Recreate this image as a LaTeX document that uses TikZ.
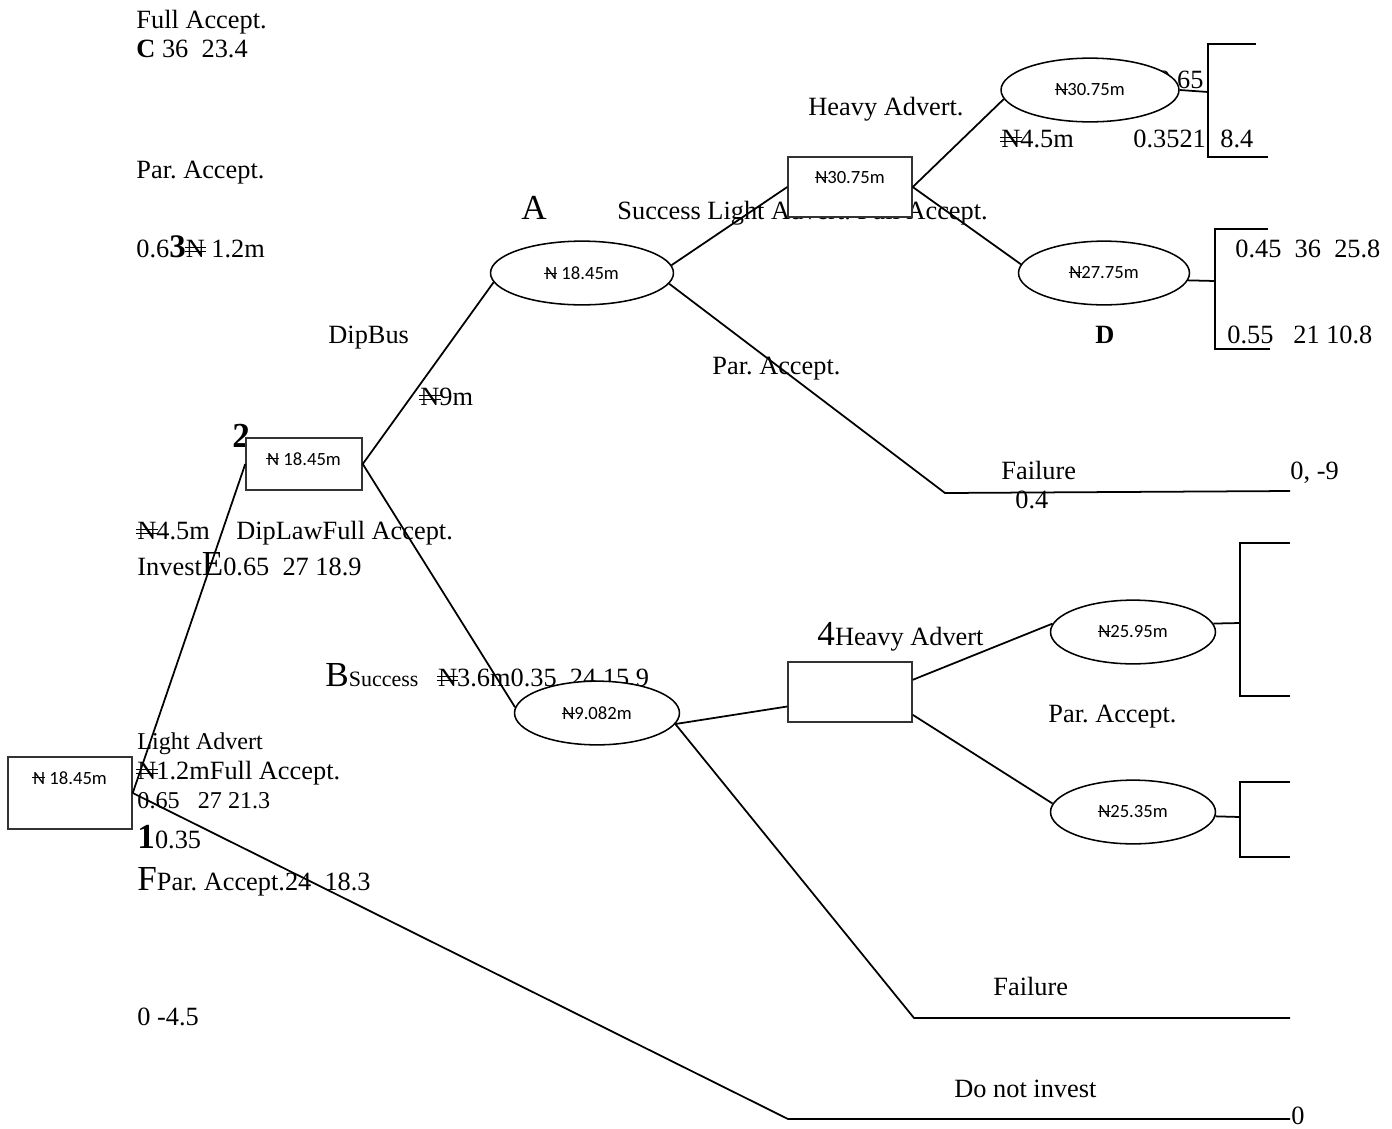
\documentclass[tikz,border=0pt]{standalone}
\usepackage{fontspec}
\setmainfont{Liberation Serif}
\setsansfont{Carlito}
\usepackage{tikz}
\usetikzlibrary{shapes.geometric}

\begin{document}
\frenchspacing
\begin{tikzpicture}[y=-0.016cm,x=0.016cm,
	txt/.style={anchor=base west, inner sep=0pt, font=\fontsize{12}{14}\selectfont},
	decbox/.style={draw=black!80, line width=0.7pt, rectangle, fill=white, inner sep=0pt, minimum width=1.984cm, font=\sffamily\fontsize{8.5}{10}\selectfont},
	chance/.style={draw, line width=0.7pt, ellipse, fill=white, inner sep=0pt, minimum width=2.64cm, minimum height=1.02cm, font=\sffamily\fontsize{8.5}{10}\selectfont},
	branch/.style={line width=0.8pt}]
	\newcommand\Naira{\makebox[0pt][l]{\kern-0.05em\rule[0.2em]{0.82em}{0.045em}}\makebox[0pt][l]{\kern-0.05em\rule[0.34em]{0.82em}{0.045em}}N}
	\newcommand\nairasf{\makebox[0pt][l]{\kern-0.04em\rule[0.3em]{0.7em}{0.06em}}N}
	\newcommand\Lfont{\fontsize{16}{18}\selectfont}

	\useasboundingbox (0,0) rectangle (1392,1128);

	\node[txt] (fullC) at (136,28) {Full Accept.};
	\node[txt] (payC) at (136,57) {\textbf{C} 36\ \ 23.4};
	\node[txt] (parC) at (136,178) {Par. Accept.};
	\node[txt] (costC) at (136,257) {0.6{\fontsize{15}{17}\selectfont\bfseries 3}\Naira{} 1.2m};

	\node[txt, font=\Lfont] (lblA) at (521,219) {A};
	\node[txt] (succA) at (617,219) {Success Light Advert. Full Accept.};
	\node[txt] (heavyA) at (808,115) {Heavy Advert.};
	\node[txt] (costHA) at (1001,147) {\Naira4.5m};
	\node[txt] (probHA) at (1133,147) {0.3521};
	\node[txt] (payHA) at (1220,147) {8.4};
	\node[txt] (probHB) at (1157,88) {0.65};
	\node[txt] (lblD) at (1095,343) {\textbf{D}};
	\node[txt] (payD1) at (1235,257) {0.45\ \ 36\ \ 25.8};
	\node[txt] (payD2) at (1227,343) {0.55\ \ \ 21 10.8};

	\node[txt] (dipBus) at (328,343) {DipBus};
	\node[txt] (costBus) at (420,405) {\Naira9m};
	\node[txt] (parA) at (712,374) {Par. Accept.};
	\node[txt] (failLblA) at (1001,479) {Failure};
	\node[txt] (probFA) at (1015,508) {0.4};
	\node[txt] (payFA) at (1290,479) {0, -9};

	\node[txt, font=\Lfont\bfseries] (lbl2) at (232,447) {2};
	\node[txt] (costLaw) at (137,539) {\Naira4.5m\ \ \ \ DipLawFull Accept.};
	\node[txt] (investE) at (137,575) {Invest{\Lfont E}0.65\ \ 27 18.9};
	\node[txt] (lblB) at (325,686) {{\Lfont B}{\fontsize{10}{12}\selectfont Success}\ \ \ \Naira3.6m0.35\ \ 24 15.9};
	\node[txt] (lbl4) at (817,645) {{\Lfont 4}Heavy Advert};
	\node[txt] (parB) at (1048,722) {Par. Accept.};

	\node[txt, font=\fontsize{11}{13}\selectfont] (lightAdv) at (137,749) {Light Advert};
	\node[txt] (costLight) at (137,779) {\Naira1.2mFull Accept.};
	\node[txt, font=\fontsize{11}{13}\selectfont] (payLight) at (137,808) {0.65\ \ \ 27 21.3};
	\node[txt] (lbl1) at (137,848) {{\Lfont\bfseries 1}0.35};
	\node[txt] (lblF) at (137,890) {{\Lfont F}Par. Accept.24\ \ 18.3};
	\node[txt] (payNo) at (137,1025) {0 -4.5};
	\node[txt] (failLblB) at (993,995) {Failure};
	\node[txt] (noInv) at (954,1097) {Do not invest};
	\node[txt] (payN) at (1291,1124) {0};

	\node[decbox, text height=0.432cm, text depth=0.72cm] (dec1) at (70,793) {\nairasf{} 18.45m};
	\node[decbox, minimum width=1.856cm, text height=0.432cm, text depth=0.4cm] (dec2) at (304,464) {\nairasf{} 18.45m};
	\node[decbox, text height=0.424cm, text depth=0.536cm] (dec3) at (850,187) {\nairasf30.75m};
	\node[decbox, text height=0.48cm, text depth=0.48cm] (dec4) at (850,692) {};

	\node[chance, minimum width=2.928cm] (chA) at (582,273) {\nairasf{} 18.45m};
	\node[chance] (chB) at (597,713) {\nairasf9.082m};
	\node[chance, minimum width=2.848cm] (chC) at (1090,90) {\nairasf30.75m};
	\node[chance, minimum width=2.736cm] (chD) at (1104,273) {\nairasf27.75m};
	\node[chance] (chE) at (1133,632) {\nairasf25.95m};
	\node[chance] (chF) at (1133,812) {\nairasf25.35m};

	\coordinate (failA) at (945,493);
	\coordinate (endA) at (1290,491);
	\coordinate (failB) at (914,1018);
	\coordinate (endB) at (1290,1018);
	\coordinate (noinv) at (788,1119);
	\coordinate (endN) at (1290,1119);
	\coordinate (brC) at (1208,92);
	\coordinate (brD) at (1215,281);
	\coordinate (brE) at (1240,623);
	\coordinate (brF) at (1240,817);

	\draw[branch] (dec1.east) -- (dec2.west);
	\draw[branch] (dec1.east) -- (noinv) -- (endN);
	\draw[branch] (dec2.east) -- (chA.186);
	\draw[branch] (dec2.east) -- (chB.176);
	\draw[branch] (chA.5) -- (dec3.west);
	\draw[branch] (chA.-7) -- (failA) -- (endA);
	\draw[branch] (dec3.east) -- (chC.186);
	\draw[branch] (dec3.east) -- (chD.174);
	\draw[branch] (chB.-8) -- (dec4.193);
	\draw[branch] (chB.-8) -- (failB) -- (endB);
	\draw[branch] (dec4.11) -- (chE.174);
	\draw[branch] (dec4.-20) -- (chF.174);

	\draw[branch] (chC.east) -- (brC);
	\draw[branch] (chD.-5) -- (brD);
	\draw[branch] (chE.6) -- (brE);
	\draw[branch] (chF.-3) -- (brF);
	\draw[branch] (1256,44) -| (1208,157) -- (1268,157);
	\draw[branch] (1268,229) -| (1215,349) -- (1270,349);
	\draw[branch] (1290,543) -| (1240,696) -- (1290,696);
	\draw[branch] (1290,782) -| (1240,857) -- (1290,857);
\end{tikzpicture}
\end{document}
